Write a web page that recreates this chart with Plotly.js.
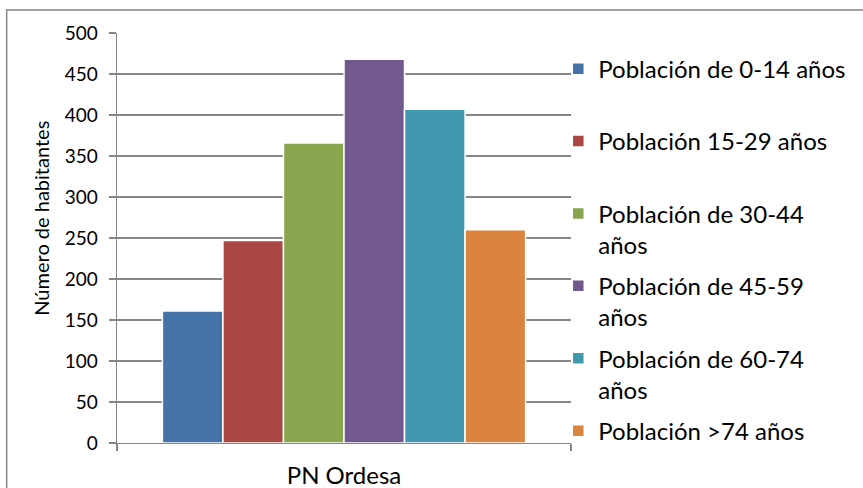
<!DOCTYPE html>
<html>
<head>
<meta charset="utf-8">
<script src="https://cdn.plot.ly/plotly-3.0.1.min.js"></script>
<style>html,body{margin:0;padding:0;background:#fff;}#chart{width:863px;height:488px;}</style>
</head>
<body>
<div id="chart"></div>
<script>
const categories = ['PN Ordesa'];
const seriesNames = [
  'Población de 0-14 años',
  'Población 15-29 años',
  'Población de 30-44<br>años',
  'Población de 45-59<br>años',
  'Población de 60-74<br>años',
  'Población >74 años'
];
const values = [161, 247, 366, 468, 407, 260];
const colors = ['#4572A7', '#AA4643', '#89A54E', '#71588F', '#4198AF', '#DB843D'];
const yTicks = [0, 50, 100, 150, 200, 250, 300, 350, 400, 450, 500];

const FONT = 'Lato, "Open Sans", sans-serif';

const traces = seriesNames.map((name, i) => ({
  type: 'bar',
  name: name.indexOf('<br>') >= 0 ? name : name + '<br> ',
  x: categories,
  y: [values[i]],
  legendgroup: 'g' + i,
  marker: { color: colors[i], line: { color: '#ffffff', width: 1.5 } },
  hoverinfo: 'none'
}));

const layout = {
  width: 863,
  height: 488,
  margin: { l: 117, r: 292, t: 33, b: 45, autoexpand: false },
  paper_bgcolor: '#ffffff',
  plot_bgcolor: '#ffffff',
  barmode: 'group',
  bargap: 0.2,
  bargroupgap: 0,
  font: { family: FONT, color: '#000000' },
  xaxis: {
    type: 'category',
    showline: true,
    linecolor: '#868686',
    linewidth: 1.3,
    ticks: 'outside',
    tickson: 'boundaries',
    ticklen: 7,
    tickcolor: '#868686',
    tickwidth: 1.3,
    showgrid: false,
    tickfont: { family: FONT, size: 24, color: '#000000' },
    ticklabelstandoff: 11
  },
  yaxis: {
    range: [0, 500],
    tickvals: yTicks,
    ticktext: yTicks.map(String),
    showline: true,
    linecolor: '#868686',
    linewidth: 1.3,
    ticks: 'outside',
    ticklen: 7,
    tickcolor: '#868686',
    tickwidth: 1.3,
    showgrid: true,
    gridcolor: '#868686',
    gridwidth: 1.3,
    zeroline: false,
    tickfont: { family: FONT, size: 19, color: '#000000' },
    ticklabelstandoff: 7
  },
  showlegend: true,
  legend: {
    x: 0.972,
    xanchor: 'left',
    y: 0.967,
    yanchor: 'top',
    traceorder: 'grouped',
    tracegroupgap: 7,
    valign: 'top',
    font: { family: FONT, size: 24, color: '#000000' },
    bgcolor: 'rgba(0,0,0,0)'
  },
  annotations: [{
    text: 'Número de habitantes',
    xref: 'paper', yref: 'paper',
    x: -0.1674, y: 0.547,
    xanchor: 'center', yanchor: 'middle',
    textangle: -90,
    showarrow: false,
    font: { family: FONT, size: 20, color: '#000000' }
  }],
  shapes: [{
    type: 'rect',
    xref: 'paper', yref: 'paper',
    x0: -0.243, x1: 2, y0: -0.3, y1: 1.056,
    line: { color: '#868686', width: 1.5 },
    fillcolor: 'rgba(0,0,0,0)',
    layer: 'below'
  }]
};

Plotly.newPlot('chart', traces, layout, { displayModeBar: false, staticPlot: true });
</script>
</body>
</html>
